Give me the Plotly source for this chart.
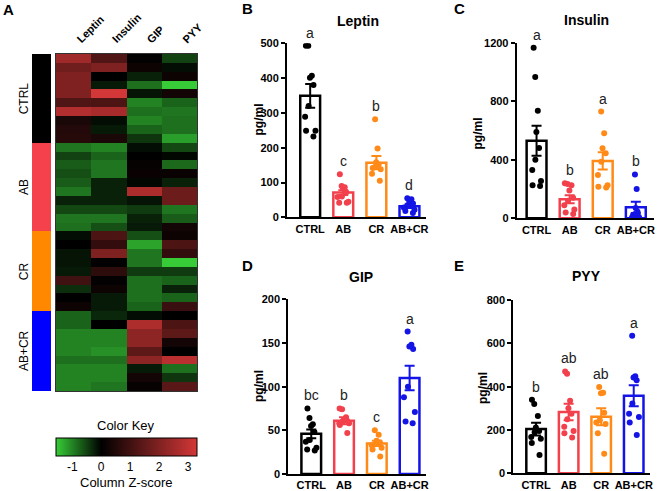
import plotly.graph_objects as go

W, H = 660, 491
FONT = "Liberation Sans"

groups = ["CTRL", "AB", "CR", "AB+CR"]
group_colors = ["#000000", "#f2404c", "#ff8a17", "#1414e6"]
group_sizes = [10, 10, 9, 9]
hormones = ["Leptin", "Insulin", "GIP", "PYY"]

# ---- heatmap z-scores (rows top to bottom) ----
z_leptin = [2.5, 1.75, 2.0, 2.0, 2.0, 1.25, 2.8, 0.4, 0.55, 0.6,
            -0.9, -0.5, -0.7, -0.6, -0.7, -0.9, -0.25, -0.55, -0.9, -0.85,
            -0.1, 0.0, -0.15, -0.15, -0.2, 1.0, -0.35, 0.0, 0.2,
            -0.75, -0.75, -1.0, -1.0, -1.0, -0.85, -1.0, -1.0, -1.0]
z_insulin = [1.25, 2.0, 0.0, -0.2, 3.3, 1.2, 2.6, -0.1, -0.2, 0.4,
             -1.0, -0.75, -0.9, -0.9, -0.25, -0.25, -0.25, -0.55, -0.9, -0.6,
             1.2, 0.8, 2.0, 0.05, 0.7, 0.05, 0.2, -0.2, -0.2,
             -0.3, 0.0, -1.0, -1.0, -1.1, -0.85, -1.0, -1.0, -0.9]
z_gip = [0.05, 0.2, -0.25, -0.85, -0.15, -1.0, -0.85, -1.0, -0.75, -0.4,
         -0.1, 0.0, 0.1, 0.15, -0.05, 2.7, -0.15, -0.45, -0.25, -0.2,
         -0.6, -1.25, -0.9, -0.9, -0.45, -0.85, -0.85, -0.85, -0.75,
         -0.1, 2.7, 2.2, 2.2, 1.45, 2.2, -0.2, 0.3, 0.1]
z_pyy = [-0.5, -0.1, 0.2, -1.55, 0.3, -0.75, -0.9, -0.85, -0.85, -1.2,
         -0.55, -0.05, -0.8, 0.15, -0.25, 1.7, 1.7, -0.9, -0.7, 0.3,
         0.2, 1.2, 0.8, -1.55, -0.45, -0.75, -0.25, -0.75, 0.9,
         0.0, 1.2, 1.45, 0.3, 0.0, 2.9, -0.85, -0.4, 1.4]
key_ticks = [-1, 0, 1, 2, 3]
key_labels = ["-1", "0", "1", "2", "3"]
z_min, z_max = -1.56, 3.31

# ---- individual values (pg/ml) ----
leptin_ctrl = [493, 493, 407, 401, 380, 320, 289, 249, 249, 232]
leptin_ab = [124, 90, 86, 83, 72, 60, 58, 45, 42, 42]
leptin_cr = [282, 198, 158, 152, 145, 142, 138, 125, 105]
leptin_abcr = [55, 52, 48, 40, 35, 28, 22, 18, 12]
leptin_mean = [349, 71, 157, 32]
leptin_sem = [34, 7, 19, 5]
leptin_letters = ["a", "c", "b", "d"]

insulin_ctrl = [1165, 965, 735, 590, 480, 400, 330, 255, 225, 220]
insulin_ab = [240, 235, 225, 190, 140, 120, 90, 60, 40, 30]
insulin_cr = [729, 581, 478, 444, 387, 296, 225, 215, 210]
insulin_abcr = [300, 200, 70, 45, 30, 20, 10, 5, 0]
insulin_mean = [530, 130, 392, 75]
insulin_sem = [103, 28, 59, 38]
insulin_letters = ["a", "b", "a", "b"]

gip_ctrl = [75, 64, 57, 55, 48, 39, 37, 30, 28, 27]
gip_ab = [75, 74, 65, 62, 61, 60, 58, 58, 56, 47]
gip_cr = [50, 45, 38, 36, 34, 33, 30, 28, 20]
gip_abcr = [163, 148, 146, 143, 100, 88, 71, 60, 58]
gip_mean = [46, 61, 35, 110]
gip_sem = [5, 4, 3, 14]
gip_letters = ["bc", "b", "c", "a"]

pyy_ctrl = [340, 320, 265, 212, 195, 190, 168, 160, 140, 85]
pyy_ab = [470, 460, 335, 300, 275, 250, 215, 195, 185, 165]
pyy_cr = [398, 372, 370, 280, 245, 235, 228, 185, 90]
pyy_abcr = [635, 448, 442, 430, 322, 275, 260, 234, 177]
pyy_mean = [204, 283, 261, 358]
pyy_sem = [29, 38, 39, 49]
pyy_letters = ["b", "ab", "ab", "a"]

fig = go.Figure()

def px_x(p):
    return p / W

def px_y(p):
    return 1 - p / H

def paper_text(x, y, text, size, angle=0, bold=False):
    return dict(x=px_x(x), y=px_y(y), xref="paper", yref="paper",
                text=("<b>%s</b>" % text) if bold else text, textangle=angle,
                showarrow=False, xanchor="center", yanchor="middle",
                font=dict(family=FONT, size=size, color="black"))

panels = [
    ("Leptin", [leptin_ctrl, leptin_ab, leptin_cr, leptin_abcr], leptin_mean, leptin_sem, leptin_letters,
     "", (287, 426), (43.3, 217.3), [0, 500], 100, [-0.7, 3.5], (258.5, 120), (358, 21), ("B", 247, 9)),
    ("Insulin", [insulin_ctrl, insulin_ab, insulin_cr, insulin_abcr], insulin_mean, insulin_sem, insulin_letters,
     "2", (516.7, 654), (42.7, 218.3), [0, 1200], 400, [-0.6, 3.55], (477.5, 134), (586, 20), ("C", 459, 9)),
    ("GIP", [gip_ctrl, gip_ab, gip_cr, gip_abcr], gip_mean, gip_sem, gip_letters,
     "3", (288.3, 426), (299.3, 474), [0, 200], 50, [-0.7, 3.5], (259, 386), (361, 277), ("D", 247, 265)),
    ("PYY", [pyy_ctrl, pyy_ab, pyy_cr, pyy_abcr], pyy_mean, pyy_sem, pyy_letters,
     "4", (513.3, 650), (300, 473.3), [0, 800], 200, [-0.7, 3.5], (483, 388), (586, 276), ("E", 459, 265)),
]

annotations = []
layout_axes = {}
for (title, pts, means, sems, letters, sfx, xd, yd, yr, step, xr, lab, tpos, plab) in panels:
    xa = "x" + sfx
    ya = "y" + sfx
    for gi, g in enumerate(groups):
        c = group_colors[gi]
        fig.add_trace(go.Bar(
            x=[g], y=[means[gi]], width=0.6, xaxis=xa, yaxis=ya,
            marker=dict(color="rgba(0,0,0,0)", line=dict(color=c, width=2.5)),
            error_y=dict(type="data", array=[sems[gi]], symmetric=True, color=c, thickness=2, width=5),
            showlegend=False, hoverinfo="skip"))
        fig.add_trace(go.Box(
            x=[g] * len(pts[gi]), y=pts[gi], xaxis=xa, yaxis=ya,
            boxpoints="all", jitter=0.75, pointpos=0, width=0.55,
            fillcolor="rgba(0,0,0,0)", line=dict(width=0, color="rgba(0,0,0,0)"),
            marker=dict(color=c, size=6), showlegend=False, hoverinfo="skip"))
        annotations.append(dict(
            x=g, y=max(pts[gi]), xref=xa, yref=ya, text=letters[gi], showarrow=False,
            xanchor="center", yanchor="middle", yshift=13,
            font=dict(family=FONT, size=14, color="#222")))
    layout_axes["xaxis" + sfx] = dict(
        domain=[px_x(xd[0]), px_x(xd[1])], anchor=ya, type="category",
        categoryorder="array", categoryarray=groups, range=xr,
        showline=True, linewidth=2, linecolor="black", ticks="",
        showgrid=False, zeroline=False,
        tickfont=dict(family=FONT, size=11, color="black", weight="bold"))
    layout_axes["yaxis" + sfx] = dict(
        domain=[px_y(yd[1]), px_y(yd[0])], anchor=xa, range=yr,
        tickmode="linear", tick0=0, dtick=step,
        showline=True, linewidth=2, linecolor="black", ticks="outside", ticklen=4,
        tickwidth=2, tickcolor="black", showgrid=False, zeroline=False,
        tickfont=dict(family=FONT, size=11, color="black", weight="bold"))
    annotations.append(paper_text(lab[0], lab[1], "pg/ml", 12, angle=-90, bold=True))
    annotations.append(paper_text(tpos[0], tpos[1], title, 14, bold=True))
    annotations.append(paper_text(plab[1], plab[2], plab[0], 15, bold=True))

# ---- heatmap ----
n_rows = len(z_leptin)
z_rows = [list(r) for r in zip(z_leptin, z_insulin, z_gip, z_pyy)]
row_ids = list(range(n_rows))
black_pos = (0 - z_min) / (z_max - z_min)
colorscale = [[0, "rgb(55,205,55)"], [black_pos, "rgb(0,0,0)"], [1, "rgb(212,55,55)"]]

fig.add_trace(go.Heatmap(
    z=z_rows, x=hormones, y=row_ids, xaxis="x5", yaxis="y5",
    colorscale=colorscale, zmin=z_min, zmax=z_max, hoverinfo="skip",
    colorbar=dict(orientation="h", x=px_x(126.5), xanchor="center", y=px_y(438), yanchor="top",
                  len=141, lenmode="pixels", thickness=18, thicknessmode="pixels",
                  tickvals=key_ticks, ticktext=key_labels, ticks="", outlinewidth=1, outlinecolor="black",
                  tickfont=dict(family=FONT, size=12, color="black"), xpad=0, ypad=0)))

row_group = []
for gi, n in enumerate(group_sizes):
    row_group += [gi] * n
side_scale = [[0, group_colors[0]], [0.25, group_colors[0]],
              [0.25, "#f5414b"], [0.5, "#f5414b"],
              [0.5, "#ff8800"], [0.75, "#ff8800"],
              [0.75, "#0000ff"], [1, "#0000ff"]]
fig.add_trace(go.Heatmap(
    z=[[g] for g in row_group], x=["grp"], y=row_ids, xaxis="x6", yaxis="y6",
    colorscale=side_scale, zmin=-0.5, zmax=3.5, showscale=False, hoverinfo="skip"))

hm_x = (56, 197)
hm_y = (54, 391)
frame = dict(showline=True, mirror=True, linewidth=1, linecolor="#333",
             showticklabels=False, ticks="", showgrid=False, zeroline=False)
row_range = [n_rows - 0.5, -0.5]
layout_axes["xaxis5"] = dict(domain=[px_x(hm_x[0]), px_x(hm_x[1])], anchor="y5",
                             type="category", range=[-0.5, len(hormones) - 0.5], **frame)
layout_axes["yaxis5"] = dict(domain=[px_y(hm_y[1]), px_y(hm_y[0])], anchor="x5",
                             range=row_range, **frame)
layout_axes["xaxis6"] = dict(domain=[px_x(32), px_x(51)], anchor="y6", visible=False,
                             range=[-0.5, 0.5])
layout_axes["yaxis6"] = dict(domain=[px_y(hm_y[1]), px_y(hm_y[0])], anchor="x6", visible=False,
                             range=row_range)

for hi, h in enumerate(hormones):
    annotations.append(dict(x=h, y=px_y(48), xref="x5", yref="paper", text="<b>%s</b>" % h,
                            textangle=-45, showarrow=False, xanchor="left", yanchor="bottom",
                            xshift=-2, font=dict(family=FONT, size=11, color="black")))
start = 0
for gi, n in enumerate(group_sizes):
    center = start + (n - 1) / 2
    annotations.append(dict(x=px_x(24), y=center, xref="paper", yref="y6", text=groups[gi],
                            textangle=-90, showarrow=False, xanchor="center", yanchor="middle",
                            font=dict(family=FONT, size=12, color="black")))
    start += n

annotations.append(paper_text(126, 425, "Color Key", 13))
annotations.append(paper_text(126, 482, "Column Z-score", 13))
annotations.append(paper_text(8, 10, "A", 15, bold=True))

fig.update_layout(
    width=W, height=H, margin=dict(l=0, r=0, t=0, b=0, autoexpand=False),
    paper_bgcolor="white", plot_bgcolor="white",
    barmode="overlay", boxmode="overlay", showlegend=False,
    annotations=annotations, **layout_axes)

fig.write_html("out.html", config={"displayModeBar": False},
               post_script="document.body.style.margin='0';")
